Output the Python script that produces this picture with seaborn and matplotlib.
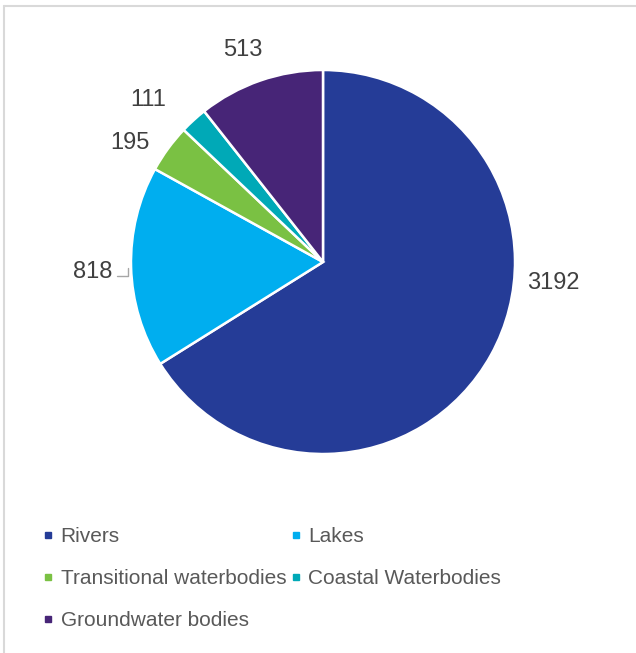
import matplotlib
matplotlib.use("Agg")
import matplotlib.pyplot as plt
import seaborn as sns
from matplotlib.lines import Line2D

# water body categories and counts
categories = ['Rivers', 'Lakes', 'Transitional waterbodies', 'Coastal Waterbodies', 'Groundwater bodies']
counts = [3192, 818, 195, 111, 513]
colours = ['#253C97', '#00AEEF', '#7AC143', '#00A9B7', '#472577']
value_labels = [str(v) for v in counts]

sns.set_style('white')
plt.rcParams['font.family'] = ['Liberation Sans', 'DejaVu Sans']

fig = plt.figure(figsize=(6.36, 6.53), dpi=100)
W, H = 636, 653
cx, cy, r = 323, 262, 192
ax = fig.add_axes([(cx - r) / W, (H - cy - r) / H, 2 * r / W, 2 * r / H])

wedges, _ = ax.pie(counts, colors=colours, startangle=90, counterclock=False,
                   wedgeprops=dict(edgecolor='white', linewidth=1.8))
ax.set_xlim(-1, 1)
ax.set_ylim(-1, 1)
ax.set_aspect('auto')
ax.axis('off')

# label positions (in pie radius units), excel style best fit
label_pos = [(1.198, -0.11), (-1.20, -0.05), (-1.005, 0.62), (-0.911, 0.845), (-0.417, 1.104)]
for txt, (x, y) in zip(value_labels, label_pos):
    ax.text(x, y, txt, ha='center', va='center', fontsize=17, color='#404040', clip_on=False)

# small leader line for the lakes label
ax.plot([(117 - cx) / r, (128 - cx) / r, (128 - cx) / r],
        [-(276 - cy) / r, -(276 - cy) / r, -(268 - cy) / r],
        color='#A6A6A6', lw=1, clip_on=False)

handles = [Line2D([0], [0], marker='s', linestyle='none', markersize=5,
                  markerfacecolor=c, markeredgecolor=c) for c in colours]
# legend is filled row by row in the reference, matplotlib fills by column
order = [0, 2, 4, 1, 3]
fig.legend([handles[i] for i in order], [categories[i] for i in order], ncol=2,
           loc='upper left', bbox_to_anchor=(42 / W, 1 - 527 / H), frameon=False,
           fontsize=15, labelcolor='#595959', handlelength=0.6,
           handletextpad=0.3, columnspacing=0.15, labelspacing=1.1,
           borderpad=0, borderaxespad=0)

# chart area border (top and left visible)
fig.add_artist(Line2D([4 / W, 1], [1 - 6 / H, 1 - 6 / H], color='#D9D9D9', lw=1.5))
fig.add_artist(Line2D([4 / W, 4 / W], [0, 1 - 6 / H], color='#D9D9D9', lw=1.5))

fig.savefig('out.png', dpi=100, facecolor='white')
